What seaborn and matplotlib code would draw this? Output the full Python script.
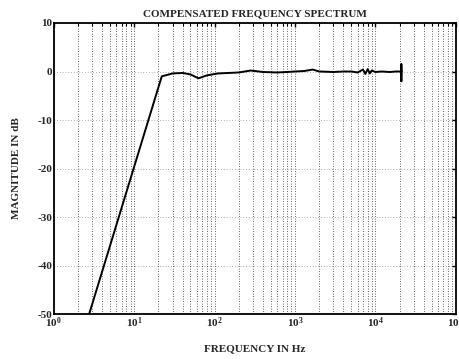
import numpy as np
import pandas as pd
import matplotlib
matplotlib.use("Agg")
import matplotlib.pyplot as plt
import seaborn as sns
from matplotlib.ticker import LogLocator, FixedLocator

# Data
freq_hz = [2.75, 22, 30, 40, 50, 63, 80, 110, 150, 200, 280, 400, 600, 800,
           1000, 1300, 1660, 2000, 3000, 4000, 5000, 6000, 7000, 7500, 8000,
           8500, 9000, 10000, 12000, 15000, 18000, 21000, 21000, 21000, 21000]
magnitude_db = [-50, -1.0, -0.4, -0.3, -0.6, -1.4, -0.8, -0.4, -0.3, -0.2, 0.2,
                -0.1, -0.2, -0.1, 0.0, 0.1, 0.4, 0.0, -0.1, 0.0, 0.0, -0.2,
                0.4, -0.5, 0.5, -0.4, 0.2, -0.1, 0.0, -0.1, 0.0, 0.0, 1.5, -2.0, 0.0]
y_ticks = [10, 0, -10, -20, -30, -40, -50]
x_ticks = [1, 10, 100, 1000, 10000, 100000]

df = pd.DataFrame({"freq": freq_hz, "mag": magnitude_db})

sns.set_style("white")
plt.rcParams["font.family"] = ["Liberation Serif", "DejaVu Serif"]
plt.rcParams["mathtext.fontset"] = "custom"
plt.rcParams["mathtext.rm"] = "Liberation Serif:bold"
plt.rcParams["mathtext.bf"] = "Liberation Serif:bold"
plt.rcParams["mathtext.default"] = "bf"

fig = plt.figure(figsize=(4.6, 3.59), dpi=100)
ax = fig.add_axes([0.117, 0.125, 0.874, 0.811])

sns.lineplot(data=df, x="freq", y="mag", sort=False, estimator=None,
             color="black", linewidth=1.4, ax=ax)

ax.set_xscale("log")
ax.set_xlim(1, 100000)
ax.set_ylim(-50, 10)
ax.set_yticks(y_ticks)
ax.set_yticklabels([str(v) for v in y_ticks], fontsize=8, fontweight="bold")
ax.xaxis.set_major_locator(FixedLocator(x_ticks))
ax.set_xticklabels([f"$10^{{{int(np.log10(v))}}}$" for v in x_ticks], fontsize=8)
ax.xaxis.set_minor_locator(LogLocator(base=10, subs=np.arange(2, 10), numticks=20))

ax.grid(which="both", axis="x", color="black", linestyle=(0, (1, 2)), linewidth=0.6, alpha=0.8)
ax.grid(which="major", axis="y", color="black", linestyle=(0, (1, 3)), linewidth=0.5, alpha=0.6)

ax.tick_params(which="both", direction="in", top=True, right=True, color="black")
ax.tick_params(which="major", length=3, width=1, pad=1)
ax.tick_params(which="minor", length=2, width=0.8)
for s in ax.spines.values():
    s.set_color("black")
    s.set_linewidth(1.3)

ax.set_title("COMPENSATED FREQUENCY SPECTRUM", fontsize=8, fontweight="bold", pad=5)
ax.set_xlabel("FREQUENCY IN Hz", fontsize=8, fontweight="bold", labelpad=10)
ax.set_ylabel("MAGNITUDE IN dB", fontsize=8, fontweight="bold", labelpad=12)

fig.savefig("out.png", dpi=100, facecolor="white")
